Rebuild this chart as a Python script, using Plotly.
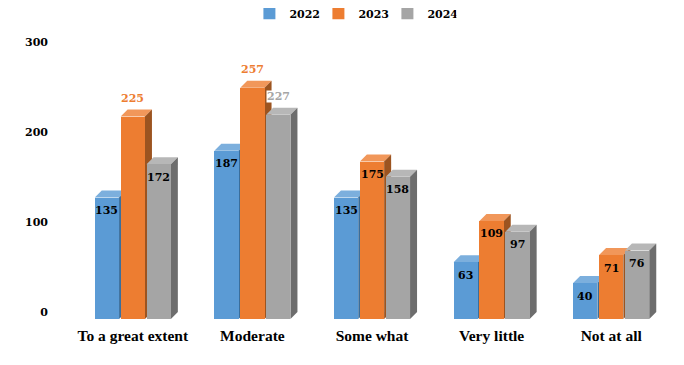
import plotly.graph_objects as go

categories = ["To a great extent", "Moderate", "Some what", "Very little", "Not at all"]
series_names = ["2022", "2023", "2024"]
values_2022 = [135, 187, 135, 63, 40]
values_2023 = [225, 257, 175, 109, 71]
values_2024 = [172, 227, 158, 97, 76]
y_ticks = [0, 100, 200, 300]
series_values = [values_2022, values_2023, values_2024]

front = ["#5B9BD5", "#ED7D31", "#A5A5A5"]
top = ["#7CAFDD", "#F1975A", "#B7B7B7"]
side = ["#3A6E9C", "#9C5420", "#6D6D6D"]
label_above = {(1, 0), (1, 1), (2, 1)}
label_halo = {(2, 1)}

BAR_W = 0.2032
STEP = 0.2166
DX = 0.0585
DY = 7.8
NUM = "DejaVu Serif"
CAT = "Liberation Serif"

fig = go.Figure()
shapes = []
annotations = []
for s, vals in enumerate(series_values):
    xs = [i + (s - 1) * STEP for i in range(len(vals))]
    fig.add_trace(go.Bar(x=xs, y=vals, width=BAR_W, name=series_names[s],
                         marker=dict(color=front[s], line=dict(width=0))))
    for i, (x, v) in enumerate(zip(xs, vals)):
        l, r = x - BAR_W / 2, x + BAR_W / 2
        shapes.append(dict(type="path", layer="below", xref="x", yref="y", line=dict(width=0),
                           fillcolor=top[s],
                           path=f"M{l},{v} L{r},{v} L{r+DX},{v+DY} L{l+DX},{v+DY} Z"))
        shapes.append(dict(type="path", layer="below", xref="x", yref="y", line=dict(width=0),
                           fillcolor=side[s],
                           path=f"M{r},0 L{r+DX},{DY} L{r+DX},{v+DY} L{r},{v} Z"))
        above = (s, i) in label_above
        ann = dict(x=x, y=v, xref="x", yref="y", text=str(v), showarrow=False,
                   yshift=18 if above else -13,
                   font=dict(family=NUM, size=11, weight="bold",
                             color=front[s] if above else "#000000"))
        if (s, i) in label_halo:
            ann.update(bgcolor="white", height=11, borderpad=0)
        annotations.append(ann)

fig.update_layout(
    width=676, height=357, autosize=False,
    margin=dict(l=65, r=13, t=41, b=46, autoexpand=False),
    paper_bgcolor="white", plot_bgcolor="white",
    barmode="overlay", bargap=0, showlegend=True,
    shapes=shapes, annotations=annotations,
    legend=dict(orientation="h", x=0.295, xref="paper", xanchor="left", y=1.186, yanchor="top",
                font=dict(family=NUM, size=11, weight="bold", color="#000000"),
                entrywidth=24, entrywidthmode="pixels", itemwidth=30),
    xaxis=dict(range=[-0.5, 4.5], tickmode="array", tickvals=list(range(5)), ticktext=categories,
               showgrid=False, zeroline=False, showline=False, ticks="", ticklabelstandoff=5,
               tickfont=dict(family=CAT, size=15.5, weight="bold", color="#000000")),
    yaxis=dict(range=[0, 300], tickmode="array", tickvals=y_ticks, showgrid=False, zeroline=False,
               showline=False, ticks="", ticklabelstandoff=24, ticklabelshift=-7,
               tickfont=dict(family=NUM, size=11, weight="bold", color="#000000")),
)
fig.write_html("out.html")
